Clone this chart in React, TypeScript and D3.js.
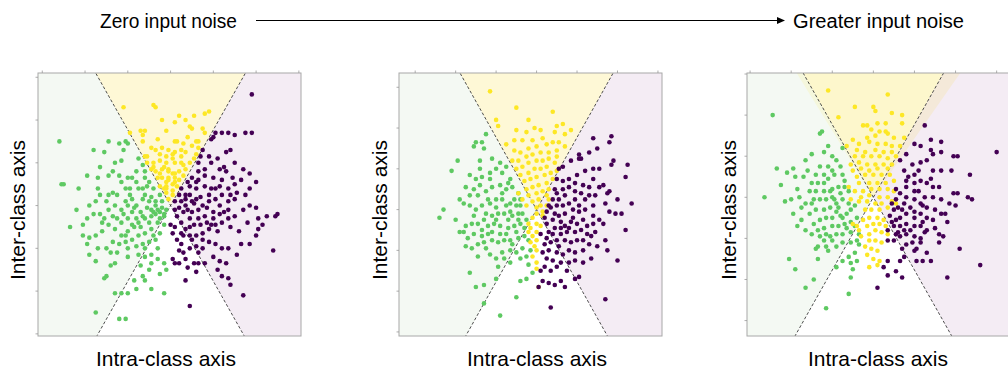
import * as d3 from 'd3'

type Pt = [number, number]

// panel 1 : zero input noise
const p1Yellow: Pt[] = [
  [-22,46],[-8,47],[-7,46],[-19,34],[-14,35],[-12,35],[-13,33],[2,39],[7,40],[11,42],[18,44],[16,43],[9,37],[15,36],[16,34],
  [2,30],[6,29],[-4,27],[-1,26],[-7,26],[-11,23],[-12,23],[-2,23],[2,25],[7,25],[12,24],[11,22],[9,20],[5,20],[2,20],
  [-2,20],[-5,21],[-8,20],[-9,17],[-7,16],[-4,17],[-1,17],[1,15],[4,16],[7,17],[6,14],[2,13],[-1,13],[-4,13],[-6,13],
  [-2,11],[1,10],[4,12],[-5,9],[-2,8],[1,7],[-2,6],[-1,3],[-3,8],[3,9],[-8,18],[-11,20],[10,28],[13,30],[13,27],
  [-13,30],[-9,27],[1,22],[5,23],[-1,12],[2,15],[-3,18],[1,24],[5,26],[-5,24],[3,30],[-6,31],[8,32],[10,36],[-2,35],
  [4,42],[-4,40],[12,30],[6,19],[-2,9],[1,5],[2,11],[-1,16],[-5,15],
]
const p1Green: Pt[] = [
  [-52,30],[-51,10],[-50,10],[-43,8],[-44,-2],[-47,-10],[-41,-9],[-39,-6],[-38,0],[-39,14],[-36,26],[-33,18],[-31,25],[-29,30],
  [-24,29],[-21,30],[-20,29],[-22,26],[-23,21],[-27,16],[-29,14],[-34,13],[-34,8],[-33,5],[-35,2],[-33,-4],[-31,-6],[-29,-2],
  [-26,0],[-25,5],[-21,8],[-20,13],[-16,16],[-15,22],[-13,19],[-12,16],[-12,13],[-10,11],[-8,8],[-5,5],[-4,2],[-2,-2],
  [-5,-3],[-7,0],[-10,2],[-13,3],[-16,0],[-18,-3],[-20,-6],[-23,-8],[-26,-11],[-29,-9],[-32,-12],[-35,-14],[-38,-15],[-39,-18],
  [-38,-23],[-35,-26],[-34,-20],[-30,-20],[-27,-17],[-25,-22],[-23,-14],[-20,-12],[-18,-9],[-15,-8],[-12,-6],[-9,-5],[-5,-6],
  [-3,-5],[-3,-4],[-9,-11],[-12,-13],[-15,-14],[-18,-16],[-21,-17],[-20,-20],[-16,-19],[-13,-18],[-10,-17],[-7,-16],[-5,-13],
  [-3,-9],[-6,-20],[-9,-23],[-12,-24],[-15,-23],[-9,-27],[-6,-25],[-3,-27],[-2,-30],[-5,-32],[-10,-30],[-13,-33],[-12,-35],
  [-17,-35],[-16,-39],[-20,-41],[-23,-41],[-26,-41],[-30,-33],[-31,-34],[-35,-50],[-24,-53],[-21,-53],[-9,-39],[-3,-41],
  [-14,-28],[-26,-27],[-28,-28],[-41,-14],[-21,2],[-19,5],[-15,8],[-12,5],[-9,-2],[-7,-4],[-13,-5],[-16,-6],[-20,0],[-23,-2],
  [-27,-5],[-30,2],[-27,6],[-23,11],[-24,14],[-18,3],[-14,-3],[-11,-1],[-8,-3],[-6,-8],[-10,-8],[-17,-10],[-22,-4],[-25,-6],
  [-19,8],[-16,11],[-13,8],[-9,4],[-7,2],[-4,-1],[-21,-14],[-24,-18],[-12,-20],[-8,-14],[-29,5],[-32,-8],[-36,-4],[-26,20],
  [-18,13],[-14,-10],[-6,-2],[-20,-24],[-28,-22],[-11,9],[-17,-1],
]
const p1Purple: Pt[] = [
  [38,52],[38,34],[35,34],[30,33],[27,34],[24,34],[21,34],[20,32],[19,31],[15,26],[14,23],[13,20],[18,23],[22,22],[26,25],
  [28,26],[30,20],[34,17],[37,15],[40,11],[37,8],[33,12],[29,13],[26,16],[23,17],[19,20],[16,17],[13,16],[10,13],[8,11],
  [5,8],[4,5],[2,2],[2,-2],[3,-5],[5,-8],[7,-11],[9,-14],[12,-14],[15,-13],[18,-11],[21,-9],[24,-8],[27,-6],[30,-5],[34,-2],
  [37,0],[40,-1],[41,-6],[45,-5],[49,-5],[43,-9],[41,-11],[40,-14],[37,-18],[33,-18],[31,-23],[27,-20],[24,-20],[21,-18],
  [18,-17],[15,-16],[12,-19],[9,-20],[5,-18],[3,-16],[1,-13],[0,-9],[2,-10],[5,-13],[6,-22],[7,-25],[1,-25],[2,-27],[4,-27],
  [8,-29],[11,-27],[13,-27],[16,-27],[12,-31],[7,-35],[9,-47],[22,-30],[23,-26],[26,-27],[24,-33],[27,-34],[28,-37],[34,-42],
  [48,-21],[50,-4],[28,5],[24,5],[21,3],[18,2],[15,0],[12,3],[9,5],[7,0],[10,-3],[13,-6],[16,-5],[20,-3],[23,0],[27,2],
  [30,3],[19,8],[16,9],[12,8],[9,9],[13,12],[20,13],[23,9],[27,8],[31,6],[35,5],[27,-2],[23,-4],[20,-6],[17,-8],[14,-9],
  [11,-9],[9,-6],[6,-3],[5,2],[7,3],[10,2],[13,-2],[8,-2],[11,1],[14,4],[17,-1],[19,-9],[22,-12],[25,-3],[10,-16],[6,-14],
  [15,-20],[18,5],[21,8],[12,11],[16,14],[24,12],[28,-10],[32,-12],[36,-8],[7,5],[4,-1],[9,-10],[13,-22],[20,-24],[30,10],
  [25,18],[4,-21],
]

// panel 2
const p2Yellow: Pt[] = [
  [-23,58],[-10,50],[8,48],[-4,44],[-20,44],[-19,41],[-10,39],[-5,38],[-1,40],[2,39],[10,41],[13,42],[17,39],[14,37],[9,38],
  [3,35],[-2,34],[-7,34],[-11,34],[-15,32],[-11,29],[-8,28],[-4,30],[0,31],[5,32],[8,33],[11,33],[14,31],[10,29],[6,28],
  [2,28],[-2,27],[-5,26],[-9,24],[-12,24],[-10,20],[-7,21],[-4,23],[0,24],[3,24],[6,25],[10,26],[9,23],[5,21],[2,20],
  [-1,20],[-4,18],[-8,17],[-6,14],[-3,15],[0,16],[4,17],[7,18],[10,19],[8,15],[5,13],[1,12],[-2,11],[-5,10],[-4,7],
  [0,8],[3,9],[6,10],[5,7],[1,5],[-2,4],[0,1],[2,2],[0,-2],[-2,-4],[0,-7],[-3,-9],[0,-11],[-2,-13],[0,-15],[-1,-18],
  [0,-20],[-2,-23],[0,-26],[0,-29],[1,-38],[-4,-7],[3,-3],[2,-8],[-4,-11],[-3,-16],[-5,2],[-7,5],[-9,8],[6,5],[5,2],[3,-1],
]
const p2Green: Pt[] = [
  [-25,37],[-30,33],[-27,33],[-31,31],[-26,30],[-28,24],[-22,25],[-18,23],[-15,21],[-17,18],[-20,20],[-23,18],[-27,16],
  [-30,15],[-33,17],[-39,24],[-42,19],[-35,11],[-33,7],[-29,7],[-25,9],[-22,11],[-18,12],[-15,10],[-12,11],[-9,8],[-8,5],
  [-10,2],[-13,3],[-17,5],[-20,5],[-23,3],[-27,2],[-30,0],[-33,2],[-36,3],[-46,0],[-48,-4],[-38,-11],[-36,-11],[-32,-7],
  [-29,-7],[-26,-5],[-22,-3],[-19,-2],[-16,-2],[-13,-1],[-9,-2],[-7,-2],[-5,-5],[-8,-7],[-11,-8],[-14,-9],[-18,-8],[-21,-7],
  [-24,-8],[-27,-10],[-31,-12],[-34,-14],[-35,-18],[-32,-19],[-29,-17],[-26,-16],[-22,-15],[-19,-16],[-16,-15],[-13,-15],
  [-9,-14],[-6,-13],[-4,-15],[-7,-19],[-10,-21],[-13,-20],[-17,-21],[-20,-24],[-23,-22],[-29,-23],[-8,-24],[-5,-23],[-4,-27],
  [-2,-31],[-5,-34],[-8,-35],[-10,-43],[-18,-52],[-33,-31],[-30,-38],[-26,-37],[-26,-46],[-20,-34],[-13,-26],[-16,-24],
  [-35,-8],[-31,-3],[-25,-2],[-20,1],[-15,2],[-12,-3],[-9,-5],[-18,-12],[-22,-11],[-27,-13],[-15,-12],[-28,12],[-31,10],
  [-23,15],[-13,15],[-14,13],[-8,2],[-20,-5],[-14,-5],[-17,8],[-24,5],[-11,5],[-6,-9],[-3,-20],[-12,-17],[-25,-19],[-19,-28],
  [-38,5],[-40,-5],[-28,20],[-10,-11],[-24,-12],
]
const p2Purple: Pt[] = [
  [37,36],[36,33],[28,35],[30,30],[26,28],[21,27],[21,25],[22,25],[17,24],[13,21],[11,20],[16,15],[20,17],[24,19],[28,20],
  [31,20],[37,22],[38,24],[45,22],[44,16],[36,9],[40,5],[47,3],[42,-2],[39,-2],[36,-1],[34,3],[29,7],[26,11],[23,12],[19,13],
  [16,11],[13,10],[10,8],[8,5],[6,2],[5,-1],[4,-4],[5,-7],[8,-5],[11,-3],[14,-2],[18,0],[21,2],[24,0],[28,-3],[31,-5],
  [33,-7],[28,-7],[25,-8],[22,-10],[19,-11],[15,-11],[12,-9],[9,-9],[6,-11],[5,-14],[4,-17],[7,-16],[10,-15],[14,-15],
  [17,-16],[20,-15],[23,-15],[27,-13],[29,-11],[26,-17],[23,-20],[19,-21],[16,-20],[13,-22],[10,-21],[6,-20],[5,-24],[8,-25],
  [12,-26],[16,-26],[19,-25],[23,-26],[21,-33],[19,-34],[12,-35],[9,-37],[6,-36],[3,-35],[4,-28],[1,-38],[14,-38],[7,-48],
  [34,-44],[34,-15],[35,-20],[44,-10],[35,8],[31,11],[28,2],[24,5],[19,5],[16,3],[13,2],[10,2],[11,5],[14,7],[19,9],[22,8],
  [26,7],[9,-2],[12,-6],[17,-6],[20,-7],[23,-5],[13,14],[10,15],[28,15],[7,-30],[10,-28],[15,-30],[2,-30],[8,-12],[11,-18],
  [14,-8],[18,-4],[21,-1],[7,1],[9,10],[12,-12],[16,-9],[25,-12],[30,-18],[3,-21],[2,-12],[27,-24],[40,-25],[33,12],
]

// panel 3 : greater input noise
const p3Yellow: Pt[] = [
  [-22,52],[7,50],[-9,44],[0,44],[1,42],[-17,39],[9,41],[14,40],[-5,35],[-3,35],[2,36],[6,36],[14,36],[-1,33],[3,32],[6,32],
  [-10,28],[-3,29],[1,30],[7,31],[10,29],[15,29],[-13,25],[-7,26],[-2,27],[2,26],[6,26],[9,25],[13,25],[-8,23],[-4,22],
  [1,23],[5,22],[9,22],[11,20],[7,19],[3,20],[-1,20],[-5,20],[-9,20],[-11,16],[-7,17],[-3,16],[1,16],[5,16],[9,16],[7,14],
  [2,14],[-2,13],[-6,14],[-10,13],[-8,10],[-4,11],[0,11],[4,11],[8,11],[10,8],[6,7],[2,7],[-2,7],[-7,7],[-9,3],[-5,3],
  [-1,4],[3,4],[7,4],[10,3],[7,0],[3,0],[-2,1],[-6,0],[-7,-2],[-3,-2],[1,-3],[4,-3],[7,-5],[3,-6],[-1,-6],[-4,-6],[2,-10],
  [-2,-10],[-5,-11],[0,-13],[3,-13],[-3,-14],[1,-16],[4,-17],[-2,-18],[-6,-19],[-2,-21],[1,-21],[4,-22],[-4,-24],[-1,-25],
  [2,-26],[-3,-28],[0,-30],[2,-33],[-2,-34],[3,-31],[7,-18],[6,-14],[-7,-16],[-10,-13],[5,-11],[9,-2],[11,-3],[-11,-1],
  [-12,5],[-8,-14],
]
const p3Green: Pt[] = [
  [-49,40],[-47,14],[-53,0],[-45,6],[-42,12],[-39,14],[-38,10],[-43,-2],[-39,-8],[-40,-1],[-37,4],[-34,10],[-32,13],[-33,18],
  [-30,21],[-26,31],[-25,32],[-24,22],[-22,25],[-20,20],[-18,18],[-20,13],[-22,15],[-24,11],[-28,11],[-30,7],[-27,7],[-24,7],
  [-20,4],[-17,5],[-14,8],[-15,11],[-19,11],[-16,2],[-20,0],[-23,-1],[-26,-1],[-29,-1],[-33,-3],[-35,-5],[-31,-8],[-28,-6],
  [-24,-6],[-21,-5],[-18,-3],[-15,-1],[-12,-3],[-11,-6],[-13,-8],[-16,-9],[-20,-10],[-23,-10],[-26,-11],[-29,-13],[-33,-16],
  [-30,-18],[-27,-16],[-24,-15],[-20,-14],[-17,-14],[-14,-13],[-11,-12],[-9,-14],[-11,-17],[-15,-18],[-18,-18],[-21,-19],
  [-24,-21],[-27,-24],[-28,-25],[-22,-26],[-18,-24],[-15,-22],[-11,-22],[-8,-21],[-7,-23],[-9,-27],[-12,-29],[-15,-31],
  [-11,-32],[-8,-31],[-10,-35],[-11,-39],[-18,-34],[-23,-24],[-29,-40],[-33,-44],[-38,-35],[-41,-30],[-12,-47],[-23,-54],
  [-31,3],[-28,3],[-24,3],[-21,3],[-18,-7],[-15,-10],[-26,-19],[-23,-18],[-8,-10],[-7,-18],[-12,3],[-16,15],[-35,-11],
  [-37,-14],[-19,-1],[-14,5],[-22,9],[-26,15],[-17,-5],[-13,-15],[-9,-4],[-30,-3],[-20,-21],[-36,0],[-15,24],[-27,-30],
]
const p3Purple: Pt[] = [
  [25,35],[28,28],[33,27],[20,26],[23,25],[28,23],[29,21],[33,22],[39,20],[41,20],[60,22],[16,21],[19,16],[23,17],[26,18],
  [29,13],[33,13],[38,13],[47,11],[15,13],[20,11],[16,8],[20,7],[23,8],[26,7],[29,5],[32,5],[39,2],[41,2],[46,0],[48,-1],
  [37,-3],[40,-4],[33,-8],[35,-8],[30,-6],[26,-5],[23,-3],[20,-1],[16,0],[13,2],[11,-1],[12,-5],[10,-6],[8,-9],[11,-11],
  [13,-10],[16,-8],[20,-7],[23,-8],[26,-10],[29,-11],[26,-16],[23,-14],[20,-14],[16,-13],[13,-14],[10,-14],[7,-16],[7,-21],
  [10,-21],[13,-19],[16,-18],[20,-19],[23,-20],[25,-17],[32,-18],[34,-19],[32,-22],[23,-22],[16,-23],[14,-25],[15,-29],
  [20,-26],[21,-31],[24,-31],[28,-31],[42,-25],[52,-33],[36,-39],[13,-31],[11,-36],[7,-38],[5,-34],[2,-44],[14,-39],[7,-31],
  [22,3],[25,0],[16,5],[20,3],[29,0],[33,-1],[15,-16],[18,-16],[11,-18],[20,-10],[24,-12],[9,-3],[28,9],[15,-3],[18,-5],
  [14,-6],[17,10],[22,13],[12,-17],[9,-12],[19,-22],[26,-27],[30,-15],[36,-12],[24,-4],[21,-25],[11,4],[13,18],
]

const xTicks = [-60, -40, -20, 0, 20, 40, 60]
const yTicks = [-60, -40, -20, 0, 20, 40, 60]

const panels = [
  { left: 38, xDomain: [-62, 61], yDomain: [-61, 62], yellow: p1Yellow, green: p1Green, purple: p1Purple, noisy: false, yLabelX: 25, xLabelX: 166 },
  { left: 399, xDomain: [-68, 62], yDomain: [-62, 67], yellow: p2Yellow, green: p2Green, purple: p2Purple, noisy: false, yLabelX: 387, xLabelX: 537 },
  { left: 747, xDomain: [-61.5, 66.5], yDomain: [-67.5, 60.5], yellow: p3Yellow, green: p3Green, purple: p3Purple, noisy: true, yLabelX: 736, xLabelX: 878 },
]

const slope = 1.77
const FONT = "'Liberation Sans', Arial, Helvetica, sans-serif"
const SIZE = 263
const TOP = 73

export default function App() {
  return (
    <svg width={1008} height={371} style={{ position: 'absolute', left: 0, top: 0 }} fontFamily={FONT}>
      <rect width={1008} height={371} fill="#fff" />
      <text x={100} y={28} fontSize={20} textLength={137} lengthAdjust="spacingAndGlyphs">Zero input noise</text>
      <line x1={256} x2={779} y1={20.5} y2={20.5} stroke="#000" strokeWidth={1.2} />
      <path d="M785,20.5 L777,17 L777,24 Z" fill="#000" />
      <text x={793} y={28} fontSize={20} textLength={171} lengthAdjust="spacingAndGlyphs">Greater input noise</text>

      {panels.map((p, i) => {
        const x = d3.scaleLinear().domain(p.xDomain).range([p.left, p.left + SIZE])
        const y = d3.scaleLinear().domain(p.yDomain).range([TOP + SIZE, TOP])
        const big = 300
        const poly = (pts: Pt[]) => 'M' + pts.map(([a, b]) => `${x(a)},${y(b)}`).join('L') + 'Z'
        const green = poly([[0, 0], [-big / slope, big], [-big, big], [-big, -big], [-big / slope, -big]])
        const yellow = poly([[0, 0], [-big / slope, big], [big / slope, big]])
        const purple = poly([[0, 0], [big / slope, big], [big, big], [big, -big], [big / slope, -big]])
        const bandL = poly([[0, 0], [-big / 1.62, big], [-big / slope, big]])
        const bandR = poly([[0, 0], [big / slope, big], [big / 1.43, big]])
        const clipId = `clip${i}`
        const dot = (pts: Pt[], color: string) =>
          pts.map((d, j) => <circle key={j} cx={x(d[0])} cy={y(d[1])} r={2.3} fill={color} />)
        return (
          <g key={i}>
            <defs>
              <clipPath id={clipId}>
                <rect x={p.left} y={TOP} width={SIZE} height={SIZE} />
              </clipPath>
            </defs>
            <g clipPath={`url(#${clipId})`}>
              <path d={green} fill="#f4f9f3" />
              <path d={yellow} fill={p.noisy ? '#fdf7cc' : '#fef8d6'} />
              <path d={purple} fill="#f4ecf4" />
              {p.noisy && <path d={bandL} fill="#f5f7dc" />}
              {p.noisy && <path d={bandR} fill="#f4e9d9" />}
              <line x1={x(-big / slope)} y1={y(big)} x2={x(big / slope)} y2={y(-big)} stroke="#222" strokeWidth={0.8} strokeDasharray="3,2" />
              <line x1={x(big / slope)} y1={y(big)} x2={x(-big / slope)} y2={y(-big)} stroke="#222" strokeWidth={0.8} strokeDasharray="3,2" />
              {dot(p.green, '#5ec962')}
              {dot(p.yellow, '#fde725')}
              {dot(p.purple, '#440154')}
            </g>
            <rect x={p.left} y={TOP} width={SIZE} height={SIZE} fill="none" stroke="#a8a8a8" strokeWidth={1} />
            {xTicks.map(t => (
              <line key={'x' + t} x1={x(t)} x2={x(t)} y1={TOP} y2={TOP - 2.5} stroke="#999" strokeWidth={0.8} />
            ))}
            {yTicks.map(t => (
              <line key={'y' + t} x1={p.left} x2={p.left - 2.5} y1={y(t)} y2={y(t)} stroke="#999" strokeWidth={0.8} />
            ))}
            <text transform={`translate(${p.yLabelX},210) rotate(-90)`} textAnchor="middle" fontSize={21}>
              Inter-class axis
            </text>
            <text x={p.xLabelX} y={366} textAnchor="middle" fontSize={21}>Intra-class axis</text>
          </g>
        )
      })}
    </svg>
  )
}
